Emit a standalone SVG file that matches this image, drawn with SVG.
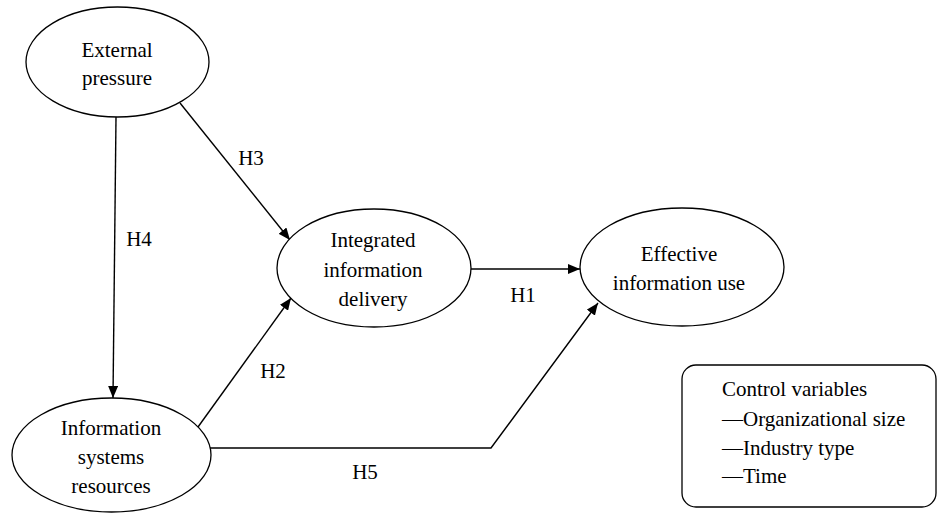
<svg xmlns="http://www.w3.org/2000/svg" width="937" height="514" viewBox="0 0 937 514">
<style>
.n{fill:#fff;stroke:#000;stroke-width:1.3}
.t{font-family:"Liberation Serif","Times New Roman",serif;font-size:21px;fill:#000}
.c{text-anchor:middle}
.e{fill:none;stroke:#000;stroke-width:1.4}
</style>
<defs>
<marker id="ah" viewBox="0 0 12 10" refX="12" refY="5" markerWidth="12" markerHeight="10" markerUnits="userSpaceOnUse" orient="auto">
<path d="M0,0 L12,5 L0,10 z" fill="#000"/>
</marker>
</defs>
<rect width="937" height="514" fill="#fff"/>
<g id="connectors">
<path class="e" d="M116,117 L113,398" marker-end="url(#ah)"/>
<path class="e" d="M180,103 L290,240" marker-end="url(#ah)"/>
<path class="e" d="M198,427 L291,298" marker-end="url(#ah)"/>
<path class="e" d="M471,269 L580,269" marker-end="url(#ah)"/>
<path class="e" d="M210,448 L491,448 L598,303" marker-end="url(#ah)"/>
<text class="t c" x="251" y="165">H3</text>
<text class="t c" x="139" y="246">H4</text>
<text class="t c" x="523" y="302">H1</text>
<text class="t c" x="273" y="378">H2</text>
<text class="t c" x="365" y="479">H5</text>
</g>
<g id="external">
<ellipse class="n" cx="117.5" cy="62" rx="91.5" ry="55"/>
<text class="t c" x="117" y="57">External</text>
<text class="t c" x="117" y="85">pressure</text>
</g>
<g id="integrated">
<ellipse class="n" cx="374" cy="268" rx="97" ry="59"/>
<text class="t c" x="373" y="247">Integrated</text>
<text class="t c" x="373" y="277">information</text>
<text class="t c" x="373" y="306">delivery</text>
</g>
<g id="effective">
<ellipse class="n" cx="682" cy="267" rx="102" ry="59"/>
<text class="t c" x="679" y="261">Effective</text>
<text class="t c" x="679" y="290">information use</text>
</g>
<g id="isresources">
<ellipse class="n" cx="111.5" cy="455" rx="99.5" ry="57"/>
<text class="t c" x="111" y="435">Information</text>
<text class="t c" x="111" y="464">systems</text>
<text class="t c" x="111" y="493">resources</text>
</g>
<g id="controls">
<rect class="n" x="682" y="365" width="254" height="142" rx="14" ry="14"/>
<text class="t" x="722" y="396">Control variables</text>
<text class="t" x="722" y="426">—Organizational size</text>
<text class="t" x="722" y="455">—Industry type</text>
<text class="t" x="722" y="483">—Time</text>
</g>
</svg>
